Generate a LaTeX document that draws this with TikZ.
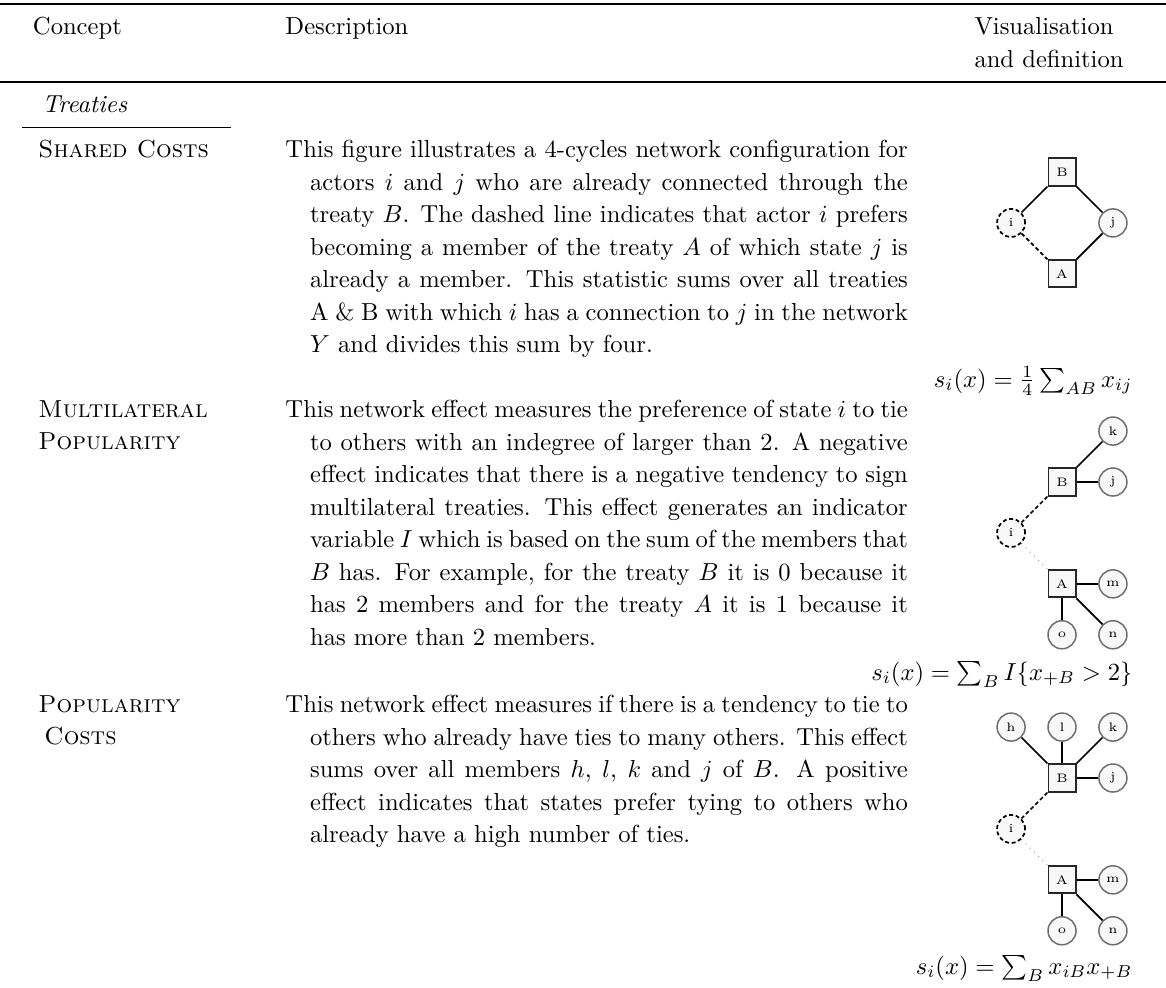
\documentclass[tikz,border=0pt]{standalone}
\usepackage{tikz}
\usetikzlibrary{shapes.geometric, arrows}
\usetikzlibrary{calc}
\definecolor{nodefill}{RGB}{248,248,248}
\definecolor{actorline}{RGB}{110,110,110}
\tikzstyle{treaty} = [rectangle, minimum size=11pt, inner sep=0pt, draw=black!85, line width=0.8pt, fill=nodefill, font=\tiny]
\tikzstyle{actor} = [circle, minimum size=11.4pt, inner sep=0pt, draw=actorline, line width=0.6pt, fill=nodefill, font=\tiny]
\tikzstyle{ego} = [circle, minimum size=11.4pt, inner sep=0pt, draw=black, line width=0.7pt, dash pattern=on 1.6pt off 1.1pt, fill=nodefill, font=\tiny]
\tikzstyle{tie} = [line width=0.7pt]
\tikzstyle{wish} = [line width=0.7pt, dash pattern=on 1.6pt off 1.1pt]
\tikzstyle{faint} = [gray!70, line width=0.4pt, dotted]
\tikzstyle{head} = [inner sep=0pt]
\tikzstyle{concept} = [inner sep=0pt]
\tikzstyle{desc} = [inner sep=0pt, text width=253pt, align=justify, font=\fontsize{10}{13.2}\selectfont]
\tikzstyle{formula} = [inner sep=0pt]
\tikzstyle{toprule} = [line width=0.8pt]
\tikzstyle{midrule} = [line width=0.5pt]

\begin{document}
\begin{tikzpicture}[x=0.4065pt, y=-0.4065pt, node distance=20.7pt]
\useasboundingbox (0,0) rectangle (1166,987);
%表头
\draw [toprule] (0,4) -- (1166,4);
\node (hcon) [head, anchor=base west] at (32.5,35) {Concept};
\node (hdes) [head, anchor=base west] at (285,35) {Description};
\node (hvis) [head, anchor=base west] at (974,35) {Visualisation};
\node (hdef) [head, anchor=base west] at (974,67.5) {and definition};
\draw [midrule] (0,82) -- (1166,82);
\node (trt) [concept, anchor=base west] at (42,113) {\textit{Treaties}};
\draw [midrule, line width=0.4pt] (22,127) -- (231,127);

%第一行
\node (c1) [concept, anchor=base west] at (38,157) {\textsc{Shared Costs}};
\node (d1) [desc, anchor=north west] at (285,140) {\noindent\hangindent=1em\hangafter=1 This figure illustrates a 4-cycles network configuration for actors $i$ and $j$ who are already connected through the treaty $B$. The dashed line indicates that actor $i$ prefers becoming a member of the treaty $A$ of which state $j$ is already a member. This statistic sums over all treaties A \& B with which $i$ has a connection to $j$ in the network $Y$ and divides this sum by four.\par};
\node (b1) [treaty] at (1062,172) {B};
\node (i1) [ego, below of=b1, xshift=-20.7pt] {i};
\node (j1) [actor, below of=b1, xshift=20.7pt] {j};
\node (a1) [treaty, below of=i1, xshift=20.7pt] {A};
\draw [tie] (b1) -- (i1);
\draw [tie] (b1) -- (j1);
\draw [tie] (a1) -- (j1);
\draw [wish] (i1) -- (a1);
\node (f1) [formula, anchor=base east] at (1133,387) {$s_i(x)=\frac{1}{4}\sum_{AB}x_{ij}$};

%第二行
\node (c2) [concept, anchor=base west] at (38,417) {\textsc{Multilateral}};
\node (c2b) [concept, anchor=base west] at (38,449.5) {\textsc{Popularity}};
\node (d2) [desc, anchor=north west] at (285,400) {\noindent\hangindent=1em\hangafter=1 This network effect measures the preference of state $i$ to tie to others with an indegree of larger than 2. A negative effect indicates that there is a negative tendency to sign multilateral treaties. This effect generates an indicator variable $I$ which is based on the sum of the members that $B$ has. For example, for the treaty $B$ it is 0 because it has 2 members and for the treaty $A$ it is 1 because it has more than 2 members.\par};
\node (b2) [treaty] at (1062,482) {B};
\node (k2) [actor, above of=b2, xshift=20.7pt] {k};
\node (j2) [actor, right of=b2] {j};
\node (i2) [ego, below of=b2, xshift=-20.7pt] {i};
\node (a2) [treaty, below of=i2, xshift=20.7pt] {A};
\node (m2) [actor, right of=a2] {m};
\node (o2) [actor, below of=a2] {o};
\node (n2) [actor, below of=m2] {n};
\draw [tie] (b2) -- (k2);
\draw [tie] (b2) -- (j2);
\draw [wish] (b2) -- (i2);
\draw [faint] (i2) -- (a2);
\draw [tie] (a2) -- (m2);
\draw [tie] (a2) -- (o2);
\draw [tie] (a2) -- (n2);
\node (f2) [formula, anchor=base east] at (1133,680) {$s_i(x)=\sum_B I\{x_{+B}>2\}$};

%第三行
\node (c3) [concept, anchor=base west] at (38,712) {\textsc{Popularity}};
\node (c3b) [concept, anchor=base west] at (44,744.5) {\textsc{Costs}};
\node (d3) [desc, anchor=north west] at (285,695) {\noindent\hangindent=1em\hangafter=1 This network effect measures if there is a tendency to tie to others who already have ties to many others. This effect sums over all members $h$, $l$, $k$ and $j$ of $B$. A positive effect indicates that states prefer tying to others who already have a high number of ties.\par};
\node (b3) [treaty] at (1062,778) {B};
\node (h3) [actor, above of=b3, xshift=-20.7pt] {h};
\node (l3) [actor, above of=b3] {l};
\node (k3) [actor, above of=b3, xshift=20.7pt] {k};
\node (j3) [actor, right of=b3] {j};
\node (i3) [ego, below of=b3, xshift=-20.7pt] {i};
\node (a3) [treaty, below of=i3, xshift=20.7pt] {A};
\node (m3) [actor, right of=a3] {m};
\node (o3) [actor, below of=a3] {o};
\node (n3) [actor, below of=m3] {n};
\draw [tie] (b3) -- (h3);
\draw [tie] (b3) -- (l3);
\draw [tie] (b3) -- (k3);
\draw [tie] (b3) -- (j3);
\draw [wish] (b3) -- (i3);
\draw [faint] (i3) -- (a3);
\draw [tie] (a3) -- (m3);
\draw [tie] (a3) -- (o3);
\draw [tie] (a3) -- (n3);
\node (f3) [formula, anchor=base east] at (1133,974) {$s_i(x)=\sum_B x_{iB}x_{+B}$};
\end{tikzpicture}
\end{document}
